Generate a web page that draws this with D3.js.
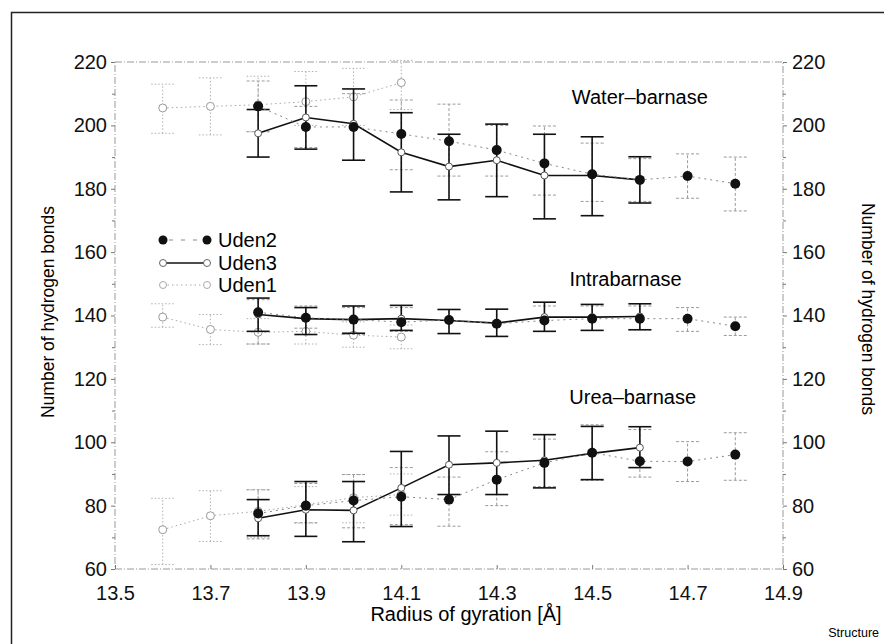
<!DOCTYPE html>
<html>
<head>
<meta charset="utf-8">
<script src="https://cdn.jsdelivr.net/npm/d3@7"></script>
<style>
  body { margin: 0; background: #fff; }
  svg { font-family: "Liberation Sans", Arial, sans-serif; }
</style>
</head>
<body>
<div id="chart"></div>
<script>
// x positions (radius of gyration, Å)
var uden1X = [13.6, 13.7, 13.8, 13.9, 14.0, 14.1];
var uden2X = [13.8, 13.9, 14.0, 14.1, 14.2, 14.3, 14.4, 14.5, 14.6, 14.7, 14.8];
var uden3X = [13.8, 13.9, 14.0, 14.1, 14.2, 14.3, 14.4, 14.5, 14.6];

// Uden1
var uden1Water = [205.5, 206, 206.5, 207.5, 209, 213.5];
var uden1WaterLo = [197.5, 197, 198, 200, 200, 205];
var uden1WaterHi = [213, 215, 215.5, 217, 218, 220.5];
var uden1Intra = [139.5, 135.6, 134.7, 135, 133.8, 133.2];
var uden1IntraLo = [136.3, 130.8, 131, 131, 130, 129.5];
var uden1IntraHi = [143.7, 140.3, 139, 139, 138, 137];
var uden1Urea = [72.4, 76.8, 78.2, 80.3, 82.5, 83.5];
var uden1UreaLo = [61.4, 68.7, 70, 74.5, 74.6, 77];
var uden1UreaHi = [82.3, 84.7, 85, 86, 89.8, 90];

// Uden2
var uden2Water = [206, 199.5, 199.5, 197.3, 195, 192.2, 188, 184.6, 182.8, 184, 181.6];
var uden2WaterLo = [198, 193, 189, 186, 184, 184, 178, 176, 176, 177, 173];
var uden2WaterHi = [214, 206, 210, 208, 206.7, 200, 199.8, 194.4, 189.5, 191, 190];
var uden2Intra = [141, 139.3, 138.7, 137.9, 138.6, 137.4, 138.4, 139, 139, 139, 136.6];
var uden2IntraLo = [131, 136, 134, 135, 134.3, 133.4, 135, 135.3, 135.5, 135, 133.7];
var uden2IntraHi = [145, 143, 142.5, 142.5, 141.9, 141.9, 143, 143, 143, 142.5, 139.5];
var uden2Urea = [77.5, 80, 81.6, 82.8, 81.9, 88.2, 93.5, 96.7, 94, 93.9, 96.1];
var uden2UreaLo = [69.5, 74.6, 73, 74, 73.5, 80, 86, 88, 89, 87.6, 88];
var uden2UreaHi = [85, 87, 89.8, 92, 89, 97, 101, 105.5, 104, 100.2, 103];

// Uden3
var uden3Water = [197.5, 202.5, 200.5, 191.5, 187, 189, 184.2, 184.2, 182.8];
var uden3WaterLo = [190, 192.5, 189, 179, 176.5, 177.5, 170.5, 171.5, 175.5];
var uden3WaterHi = [205, 212.5, 211.5, 204, 197.2, 200.4, 197.2, 196.4, 190.1];
var uden3Intra = [140.3, 139, 138.7, 139, 138.4, 137.6, 139.5, 139.5, 139.7];
var uden3IntraLo = [135, 134, 134.4, 135.3, 134.3, 133.4, 135, 135.3, 135.5];
var uden3IntraHi = [145.5, 142.5, 143, 143.2, 141.9, 142, 144.2, 143.5, 143.7];
var uden3Urea = [76, 78.7, 78.5, 85.6, 92.9, 93.5, 94.3, 96.5, 98.3];
var uden3UreaLo = [70.5, 70.3, 68.6, 73.4, 83.5, 83.5, 85.6, 88.2, 92];
var uden3UreaHi = [81.9, 87.6, 87.6, 97.1, 102, 103.5, 102.4, 105, 104.9];

var xTicks = [13.5, 13.7, 13.9, 14.1, 14.3, 14.5, 14.7, 14.9];
var yTicks = [60, 80, 100, 120, 140, 160, 180, 200, 220];
var groupLabels = ["Water\u2013barnase", "Intrabarnase", "Urea\u2013barnase"];

var W = 884, H = 644;
var margin = { top: 62, right: 101, bottom: 75, left: 115 },
    width = W - margin.left - margin.right,
    height = H - margin.top - margin.bottom;

var svg = d3.select("#chart").append("svg")
    .attr("width", W)
    .attr("height", H);

// outer frame (left + top)
svg.append("path")
    .attr("d", "M11.5," + H + "V12.5H" + W)
    .attr("fill", "none")
    .attr("stroke", "#222")
    .attr("stroke-width", 1.5);

var g = svg.append("g")
    .attr("transform", "translate(" + margin.left + "," + margin.top + ")");

var x = d3.scaleLinear().domain([13.5, 14.9]).range([0, width]);
var y = d3.scaleLinear().domain([60, 220]).range([height, 0]);

// plot frame, dotted grey
g.append("rect")
    .attr("width", width).attr("height", height)
    .attr("fill", "none")
    .attr("stroke", "#999")
    .attr("stroke-width", 1)
    .attr("stroke-dasharray", "7,2,1,2");

function styleAxis(sel) {
    sel.select(".domain").remove();
    sel.selectAll(".tick line").attr("stroke", "#777");
    sel.selectAll("text").attr("fill", "#111").style("font-size", "20px");
}

// minor y ticks
g.append("g").call(d3.axisLeft(y).tickValues(d3.range(70, 220, 20)).tickSize(3).tickFormat(""))
    .call(styleAxis);
g.append("g").attr("transform", "translate(" + width + ",0)")
    .call(d3.axisRight(y).tickValues(d3.range(70, 220, 20)).tickSize(3).tickFormat(""))
    .call(styleAxis);

g.append("g")
    .call(d3.axisLeft(y).tickValues(yTicks).tickSize(4).tickPadding(4).tickFormat(d3.format("d")))
    .call(styleAxis);
g.append("g").attr("transform", "translate(" + width + ",0)")
    .call(d3.axisRight(y).tickValues(yTicks).tickSize(4).tickPadding(5).tickFormat(d3.format("d")))
    .call(styleAxis);
g.append("g").attr("transform", "translate(0," + height + ")")
    .call(d3.axisBottom(x).tickValues(xTicks).tickSize(-4).tickPadding(17).tickFormat(d3.format(".1f")))
    .call(styleAxis);

// axis titles
svg.append("text")
    .attr("transform", "translate(54,312) rotate(-90)")
    .attr("text-anchor", "middle")
    .style("font-size", "17.5px")
    .text("Number of hydrogen bonds");
svg.append("text")
    .attr("transform", "translate(862,309) rotate(90)")
    .attr("text-anchor", "middle")
    .style("font-size", "17.5px")
    .text("Number of hydrogen bonds");
svg.append("text")
    .attr("x", 466).attr("y", 621)
    .attr("text-anchor", "middle")
    .style("font-size", "20px")
    .text("Radius of gyration [\u00c5]");
svg.append("text")
    .attr("x", 879).attr("y", 637)
    .attr("text-anchor", "end")
    .style("font-size", "12.5px")
    .text("Structure");

// group labels, anchored in data units
var labelAt = [[14.60, 206.7], [14.57, 149.3], [14.585, 112.1]];
g.selectAll(".glabel")
    .data(groupLabels)
    .enter().append("text")
    .attr("class", "glabel")
    .attr("x", function (d, i) { return x(labelAt[i][0]); })
    .attr("y", function (d, i) { return y(labelAt[i][1]); })
    .attr("text-anchor", "middle")
    .style("font-size", "20px")
    .text(function (d) { return d; });

var line = d3.line()
    .x(function (d) { return x(d.x); })
    .y(function (d) { return y(d.v); });

function rows(xs, v, lo, hi) {
    return xs.map(function (xx, i) { return { x: xx, v: v[i], lo: lo[i], hi: hi[i] }; });
}

function drawErrors(data, color, width_, dash) {
    var eb = g.append("g").attr("stroke", color).attr("stroke-width", width_)
        .attr("stroke-dasharray", dash);
    eb.selectAll(".v").data(data).enter().append("line")
        .attr("x1", function (d) { return x(d.x); })
        .attr("x2", function (d) { return x(d.x); })
        .attr("y1", function (d) { return y(d.lo); })
        .attr("y2", function (d) { return y(d.hi); });
    ["lo", "hi"].forEach(function (k) {
        eb.selectAll(".c" + k).data(data).enter().append("line")
            .attr("x1", function (d) { return x(d.x) - 11.5; })
            .attr("x2", function (d) { return x(d.x) + 11.5; })
            .attr("y1", function (d) { return y(d[k]); })
            .attr("y2", function (d) { return y(d[k]); });
    });
}

var groups1 = [rows(uden1X, uden1Water, uden1WaterLo, uden1WaterHi),
               rows(uden1X, uden1Intra, uden1IntraLo, uden1IntraHi),
               rows(uden1X, uden1Urea, uden1UreaLo, uden1UreaHi)];
var groups2 = [rows(uden2X, uden2Water, uden2WaterLo, uden2WaterHi),
               rows(uden2X, uden2Intra, uden2IntraLo, uden2IntraHi),
               rows(uden2X, uden2Urea, uden2UreaLo, uden2UreaHi)];
var groups3 = [rows(uden3X, uden3Water, uden3WaterLo, uden3WaterHi),
               rows(uden3X, uden3Intra, uden3IntraLo, uden3IntraHi),
               rows(uden3X, uden3Urea, uden3UreaLo, uden3UreaHi)];

// Uden1 - light grey dotted
groups1.forEach(function (data) {
    drawErrors(data, "#b0b0b0", 1, "1.5,2");
    g.append("path").datum(data).attr("d", line)
        .attr("fill", "none").attr("stroke", "#aaa").attr("stroke-width", 1)
        .attr("stroke-dasharray", "1.5,3");
    g.selectAll(null).data(data).enter().append("circle")
        .attr("cx", function (d) { return x(d.x); })
        .attr("cy", function (d) { return y(d.v); })
        .attr("r", 4).attr("fill", "#fff").attr("stroke", "#999").attr("stroke-width", 1);
});

// Uden2 - grey dashed error bars
groups2.forEach(function (data) {
    drawErrors(data, "#9a9a9a", 1, "3,2");
});

// Uden3 - black solid
groups3.forEach(function (data) {
    drawErrors(data, "#111", 1.6, null);
    g.append("path").datum(data).attr("d", line)
        .attr("fill", "none").attr("stroke", "#111").attr("stroke-width", 1.6);
    g.selectAll(null).data(data).enter().append("circle")
        .attr("cx", function (d) { return x(d.x); })
        .attr("cy", function (d) { return y(d.v); })
        .attr("r", 3.5).attr("fill", "#fff").attr("stroke", "#555").attr("stroke-width", 1);
});

// Uden2 line + filled dots on top
groups2.forEach(function (data) {
    g.append("path").datum(data).attr("d", line)
        .attr("fill", "none").attr("stroke", "#888").attr("stroke-width", 1)
        .attr("stroke-dasharray", "2,4");
    g.selectAll(null).data(data).enter().append("circle")
        .attr("cx", function (d) { return x(d.x); })
        .attr("cy", function (d) { return y(d.v); })
        .attr("r", 5).attr("fill", "#111");
});

// legend
var legend = [
    { name: "Uden2", ty: 240 },
    { name: "Uden3", ty: 263 },
    { name: "Uden1", ty: 285 }
];
var lg = svg.append("g");
var lx0 = 163, lx1 = 207;
// Uden2
lg.append("line").attr("x1", lx0).attr("x2", lx1).attr("y1", 240).attr("y2", 240)
    .attr("stroke", "#888").attr("stroke-dasharray", "4,8").attr("stroke-dashoffset", -6);
lg.selectAll(null).data([lx0, lx1]).enter().append("circle")
    .attr("cx", function (d) { return d; }).attr("cy", 240).attr("r", 4.5).attr("fill", "#111");
// Uden3
lg.append("line").attr("x1", lx0).attr("x2", lx1).attr("y1", 263).attr("y2", 263)
    .attr("stroke", "#111").attr("stroke-width", 1.6);
lg.selectAll(null).data([lx0, lx1]).enter().append("circle")
    .attr("cx", function (d) { return d; }).attr("cy", 263).attr("r", 3.5)
    .attr("fill", "#fff").attr("stroke", "#666");
// Uden1
lg.append("line").attr("x1", lx0).attr("x2", lx1).attr("y1", 285).attr("y2", 285)
    .attr("stroke", "#aaa").attr("stroke-dasharray", "1.5,3");
lg.selectAll(null).data([lx0, lx1]).enter().append("circle")
    .attr("cx", function (d) { return d; }).attr("cy", 285).attr("r", 3.5)
    .attr("fill", "#fff").attr("stroke", "#aaa");
lg.selectAll("text").data(legend).enter().append("text")
    .attr("x", 218).attr("y", function (d) { return d.ty + 7; })
    .style("font-size", "20px")
    .text(function (d) { return d.name; });
</script>
</body>
</html>
